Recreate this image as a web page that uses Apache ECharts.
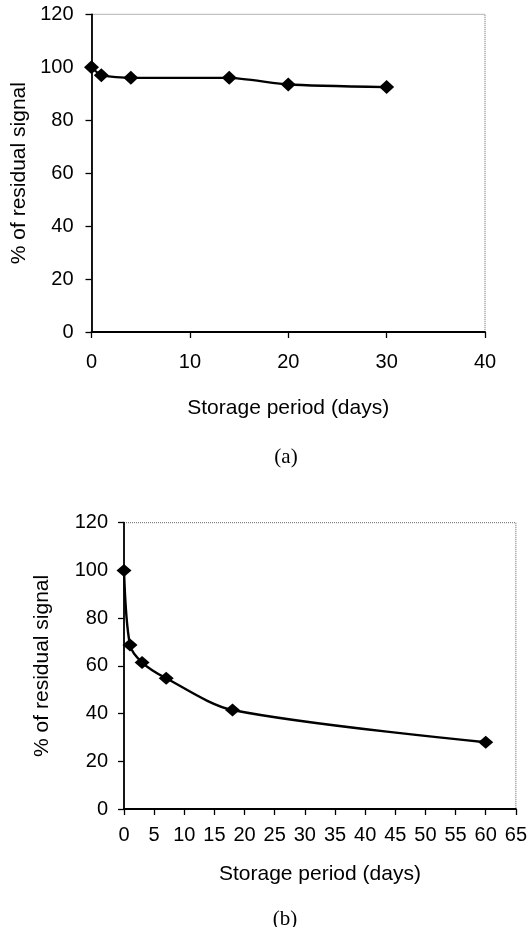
<!DOCTYPE html>
<html>
<head>
<meta charset="utf-8">
<script src="https://cdn.jsdelivr.net/npm/echarts@6/dist/echarts.min.js"></script>
<style>html,body{margin:0;padding:0;background:#fff;}#c{width:530px;height:927px;}</style>
</head>
<body>
<div id="c"></div>
<script>
// Panel (a)
const daysA = [0, 1, 4, 14, 20, 30];
const signalA = [100, 97, 96, 96, 93.5, 92.5];
// Panel (b)
const daysB = [0, 1, 3, 7, 18, 60];
const signalB = [100, 68.7, 61.4, 54.8, 41.5, 28];
const xTitle = 'Storage period (days)';
const yTitle = '% of residual signal';
const panelLabels = ['(a)', '(b)'];

const sans = 'Liberation Sans, Arial, sans-serif';
const serif = 'Liberation Serif, DejaVu Serif, serif';

function pairs(xs, ys) { return xs.map((x, i) => [x, ys[i]]); }

function xAxis(gridIndex, max, interval, margin, nameGap) {
  return {
    type: 'value', gridIndex, min: 0, max, interval,
    name: xTitle, nameLocation: 'middle', nameGap,
    nameTextStyle: { fontFamily: sans, fontSize: 21, color: '#000' },
    axisLine: { show: true, onZero: false, lineStyle: { color: '#000', width: 1.8 } },
    axisTick: { show: true, inside: false, length: 6, lineStyle: { color: '#000', width: 1.3 } },
    axisLabel: { fontFamily: sans, fontSize: 20, color: '#000', margin, interval: 0, hideOverlap: false },
    splitLine: { show: false }
  };
}
function yAxis(gridIndex, margin, nameGap) {
  return {
    type: 'value', gridIndex, min: 0, max: 120, interval: 20,
    name: yTitle, nameLocation: 'middle', nameGap, nameRotate: 90,
    nameTextStyle: { fontFamily: sans, fontSize: 21, color: '#000' },
    axisLine: { show: true, onZero: false, lineStyle: { color: '#000', width: 1.8 } },
    axisTick: { show: true, inside: false, length: 6, lineStyle: { color: '#000', width: 1.3 } },
    axisLabel: { fontFamily: sans, fontSize: 20, color: '#000', margin },
    splitLine: { show: false }
  };
}
function series(idx, data, size, smooth) {
  return {
    type: 'line', xAxisIndex: idx, yAxisIndex: idx, data,
    smooth, clip: false,
    symbol: 'diamond', symbolSize: size,
    lineStyle: { color: '#000', width: 2.4 },
    itemStyle: { color: '#000' },
    animation: false
  };
}

const chart = echarts.init(document.getElementById('c'), null, { renderer: 'canvas' });
chart.setOption({
  backgroundColor: '#fff',
  animation: false,
  title: [
    { text: panelLabels[0], left: 281, top: 442, textAlign: 'center',
      textStyle: { fontFamily: serif, fontSize: 21, fontWeight: 'normal', color: '#000' } },
    { text: panelLabels[1], left: 280, top: 904, textAlign: 'center',
      textStyle: { fontFamily: serif, fontSize: 21, fontWeight: 'normal', color: '#000' } }
  ],
  grid: [
    { left: 91.5, top: 14.3, width: 393.5, height: 317.7, show: true, borderColor: '#666', borderWidth: 1, borderType: 'dotted', backgroundColor: 'transparent' },
    { left: 124, top: 522.7, width: 395, height: 286.3, show: true, borderColor: '#666', borderWidth: 1, borderType: 'dotted', backgroundColor: 'transparent' }
  ],
  xAxis: [ xAxis(0, 40, 10, 20, 66), xAxis(1, 65, 5, 16, 55) ],
  yAxis: [ yAxis(0, 18, 62), yAxis(1, 16, 71) ],
  series: [
    series(0, pairs(daysA, signalA), [15, 14], 0.2),
    series(1, pairs(daysB, signalB), [15, 13], 0.3)
  ]
});
</script>
</body>
</html>
